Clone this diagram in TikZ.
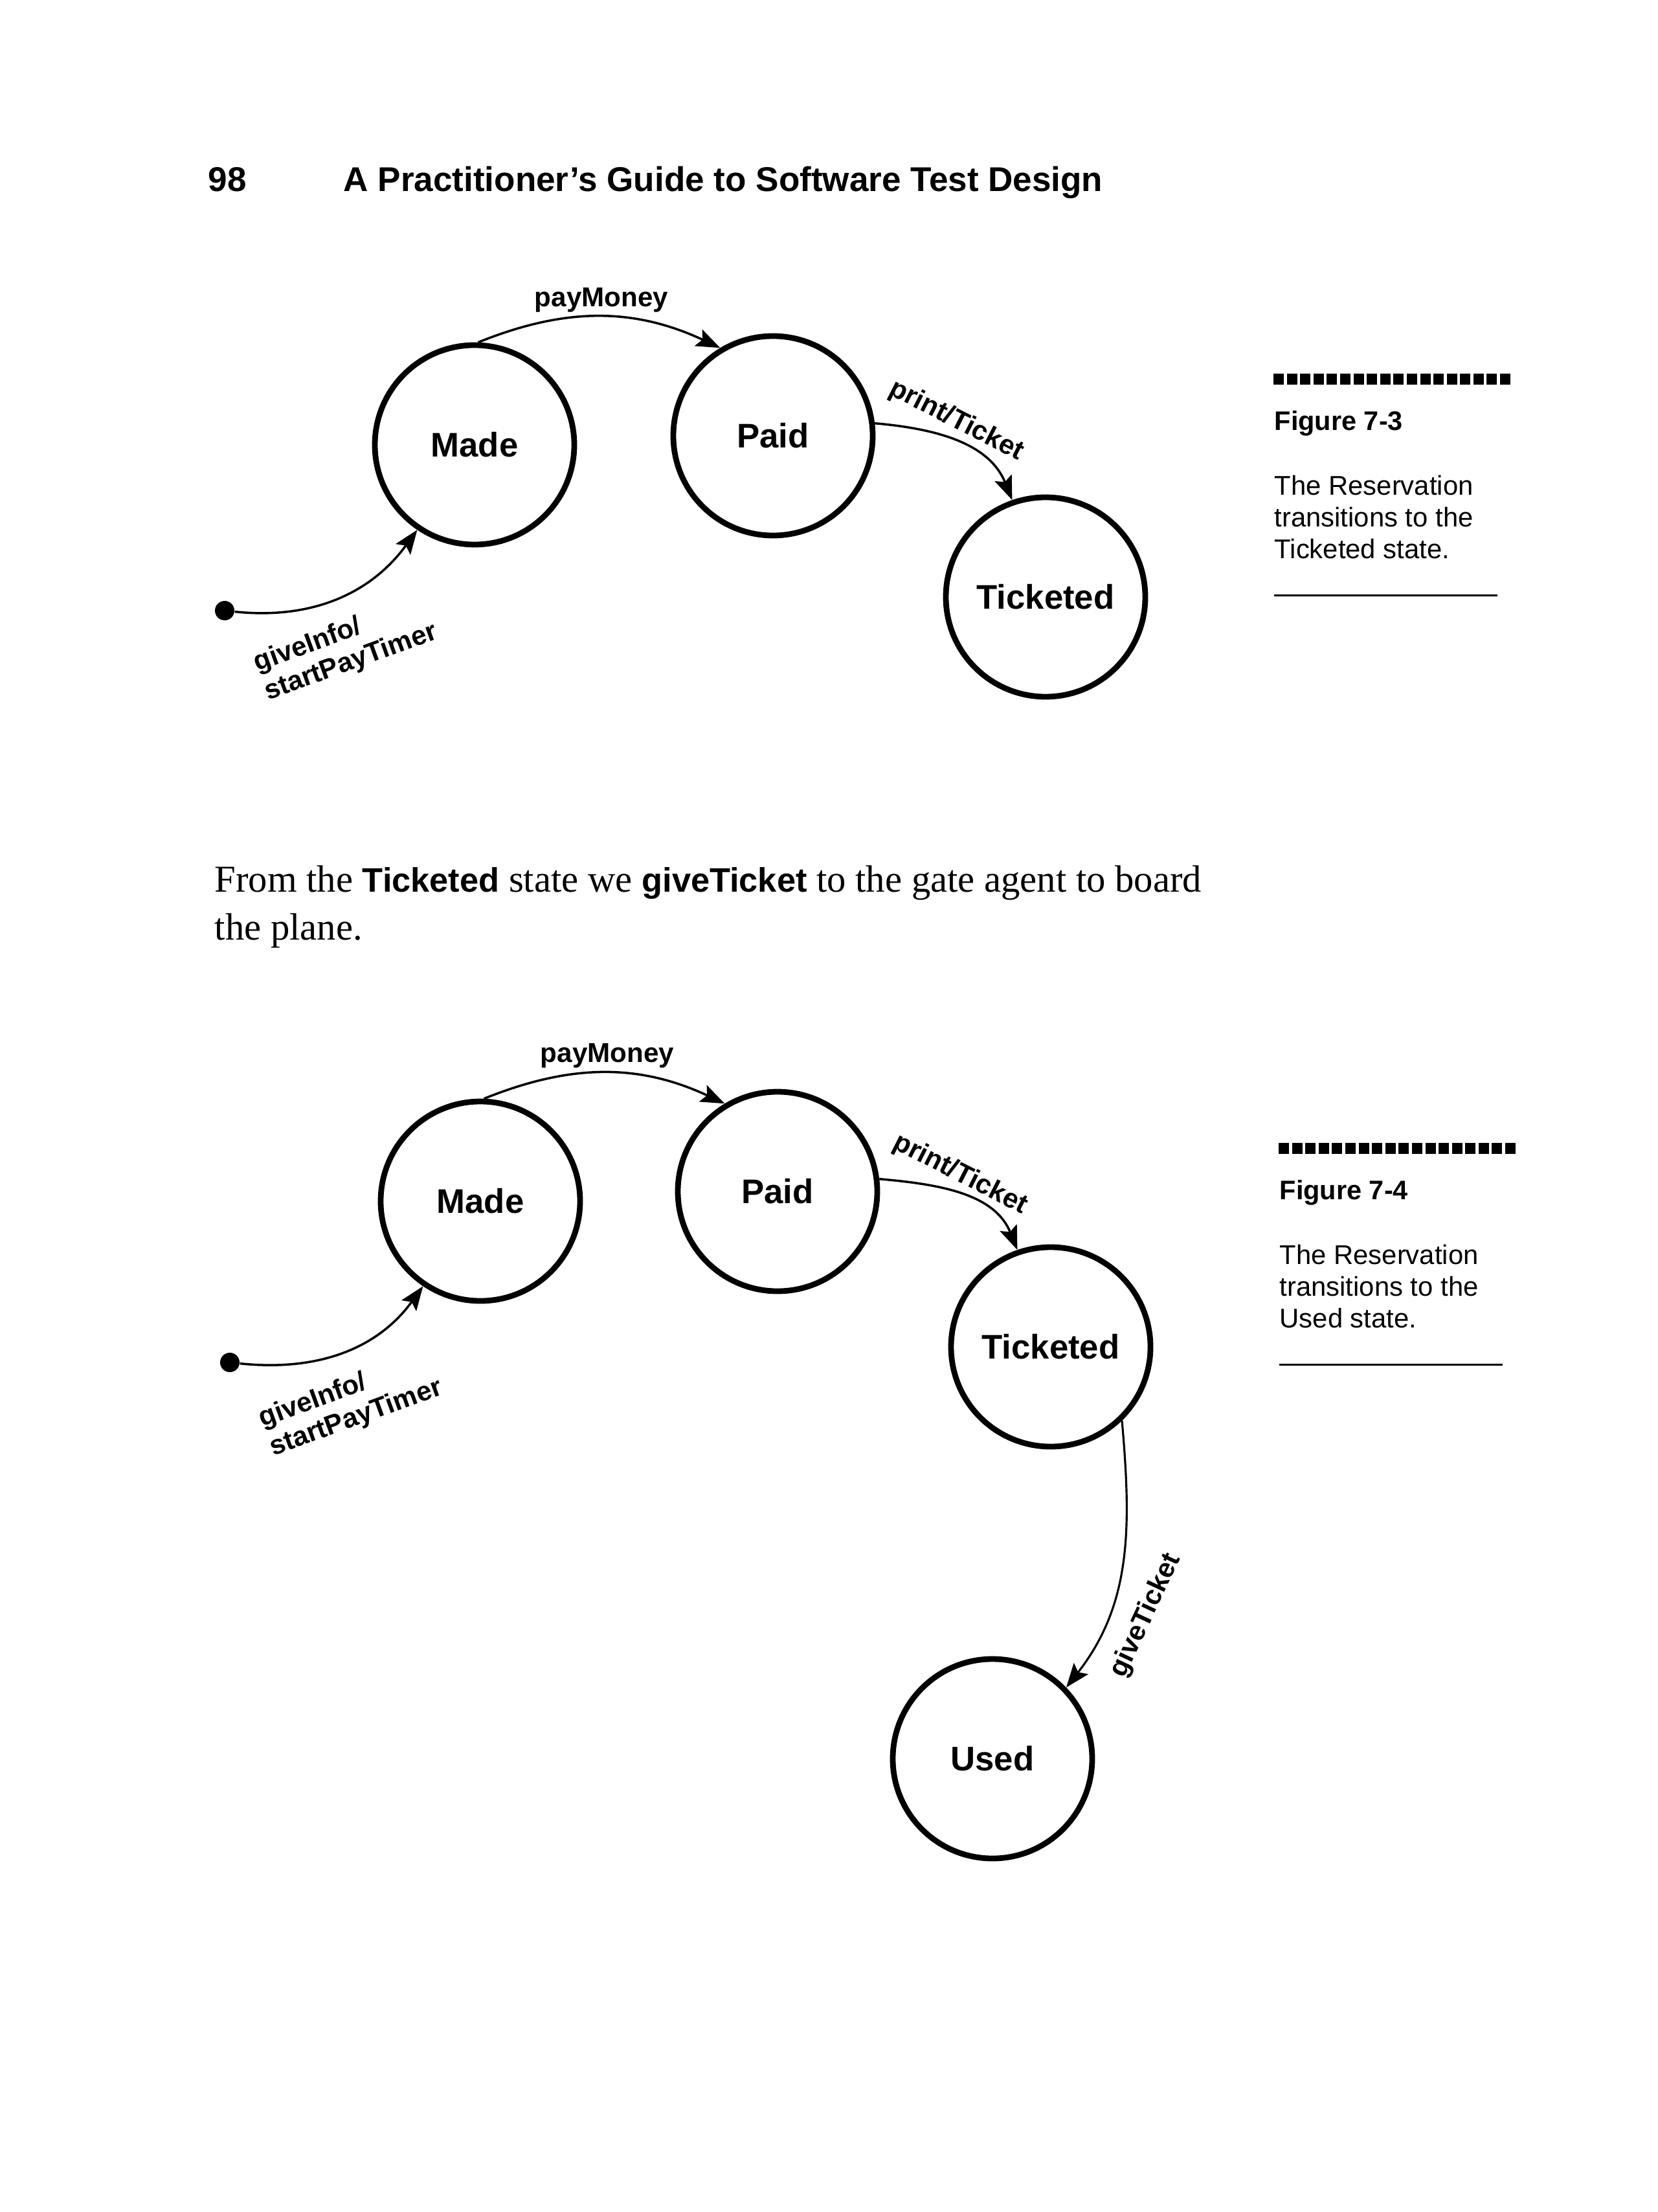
\documentclass[tikz,border=0pt]{standalone}
\usepackage{fontspec}
\setmainfont{Liberation Serif}
\setsansfont{Liberation Sans}
\usetikzlibrary{arrows.meta}
\begin{document}
\begin{tikzpicture}[
  stnode/.style={circle, draw, line width=2.5pt, minimum size=3.08cm, inner sep=0pt,
    font=\sffamily\bfseries\fontsize{15}{18}\selectfont},
  tarrow/.style={line width=1pt, -{Stealth[length=0.37cm, width=0.28cm, inset=0.07cm]}},
  initdot/.style={circle, fill, inner sep=0pt, minimum size=0.3cm},
  lbl/.style={font=\sffamily\bfseries\fontsize{12}{13.5}\selectfont, inner sep=0pt},
  txt/.style={anchor=base west, inner sep=0pt},
  figbar/.style={line width=0.17cm, dash pattern=on 0.16cm off 0.0459cm},
  figttl/.style={txt, font=\sffamily\bfseries\fontsize{11.8}{14}\selectfont},
  figcap/.style={txt, font=\sffamily\fontsize{11.9}{14}\selectfont},
  figrule/.style={line width=0.03cm}
]
\useasboundingbox (0,0) rectangle (25.6,-34.16);
\fill[white] (0,0) rectangle (25.6,-34.16);

% header
\node[txt, font=\sffamily\bfseries\fontsize{15.1}{18}\selectfont] (pg) at (3.21,-2.96) {98};
\node[txt, font=\sffamily\bfseries\fontsize{15.1}{18}\selectfont] (title) at (5.30,-2.96) {A Practitioner’s Guide to Software Test Design};

% ---------- Figure 7-3 ----------
\node[stnode] (made1) at (7.33,-6.87) {Made};
\node[stnode] (paid1) at (11.94,-6.73) {Paid};
\node[stnode] (tick1) at (16.15,-9.22) {Ticketed};
\node[initdot] (init1) at (3.47,-9.43) {};

\draw[tarrow] (made1.88) to[out=22,in=155] (paid1.121);
\draw[tarrow] (paid1.7) to[out=-5,in=112] (tick1.109);
\draw[tarrow] (init1) to[out=-6,in=234] (made1.236);

\node[lbl] (pm1) at (9.29,-4.63) {payMoney};
\node[lbl, rotate=-27] (pt1) at (14.77,-6.50) {print/Ticket};
\node[lbl, rotate=20, align=left] (gi1) at (5.34,-10.01) {giveInfo/\\startPayTimer};

\draw[figbar] (19.67,-5.86) -- (23.33,-5.86);
\node[figttl] (f3) at (19.68,-6.65) {Figure 7-3};
\node[figcap] (c3a) at (19.68,-7.65) {The Reservation};
\node[figcap] (c3b) at (19.68,-8.14) {transitions to the};
\node[figcap] (c3c) at (19.68,-8.63) {Ticketed state.};
\draw[figrule] (19.68,-9.20) -- (23.13,-9.20);

% body text
\node[txt, font=\fontsize{16.7}{20}\selectfont] (body1) at (3.31,-13.77)
  {From the {\sffamily\bfseries\fontsize{14.9}{18}\selectfont Ticketed} state we {\sffamily\bfseries\fontsize{14.9}{18}\selectfont giveTicket} to the gate agent to board};
\node[txt, font=\fontsize{16.7}{20}\selectfont] (body2) at (3.31,-14.51) {the plane.};

% ---------- Figure 7-4 ----------
\node[stnode] (made2) at (7.42,-18.55) {Made};
\node[stnode] (paid2) at (12.01,-18.40) {Paid};
\node[stnode] (tick2) at (16.23,-20.80) {Ticketed};
\node[stnode] (used2) at (15.33,-27.16) {Used};
\node[initdot] (init2) at (3.55,-21.04) {};

\draw[tarrow] (made2.88) to[out=22,in=155] (paid2.121);
\draw[tarrow] (paid2.7) to[out=-5,in=112] (tick2.109);
\draw[tarrow] (init2) to[out=-6,in=234] (made2.236);
\draw[tarrow, line width=0.9pt] (tick2.-46) to[out=-85,in=52] (used2.44);

\node[lbl] (pm2) at (9.38,-16.30) {payMoney};
\node[lbl, rotate=-27] (pt2) at (14.83,-18.14) {print/Ticket};
\node[lbl, rotate=20, align=left] (gi2) at (5.42,-21.68) {giveInfo/\\startPayTimer};
\node[lbl, rotate=65] (gt2) at (17.70,-24.95) {giveTicket};

\draw[figbar] (19.75,-17.73) -- (23.41,-17.73);
\node[figttl] (f4) at (19.76,-18.52) {Figure 7-4};
\node[figcap] (c4a) at (19.76,-19.52) {The Reservation};
\node[figcap] (c4b) at (19.76,-20.01) {transitions to the};
\node[figcap] (c4c) at (19.76,-20.50) {Used state.};
\draw[figrule] (19.76,-21.07) -- (23.21,-21.07);
\end{tikzpicture}
\end{document}
